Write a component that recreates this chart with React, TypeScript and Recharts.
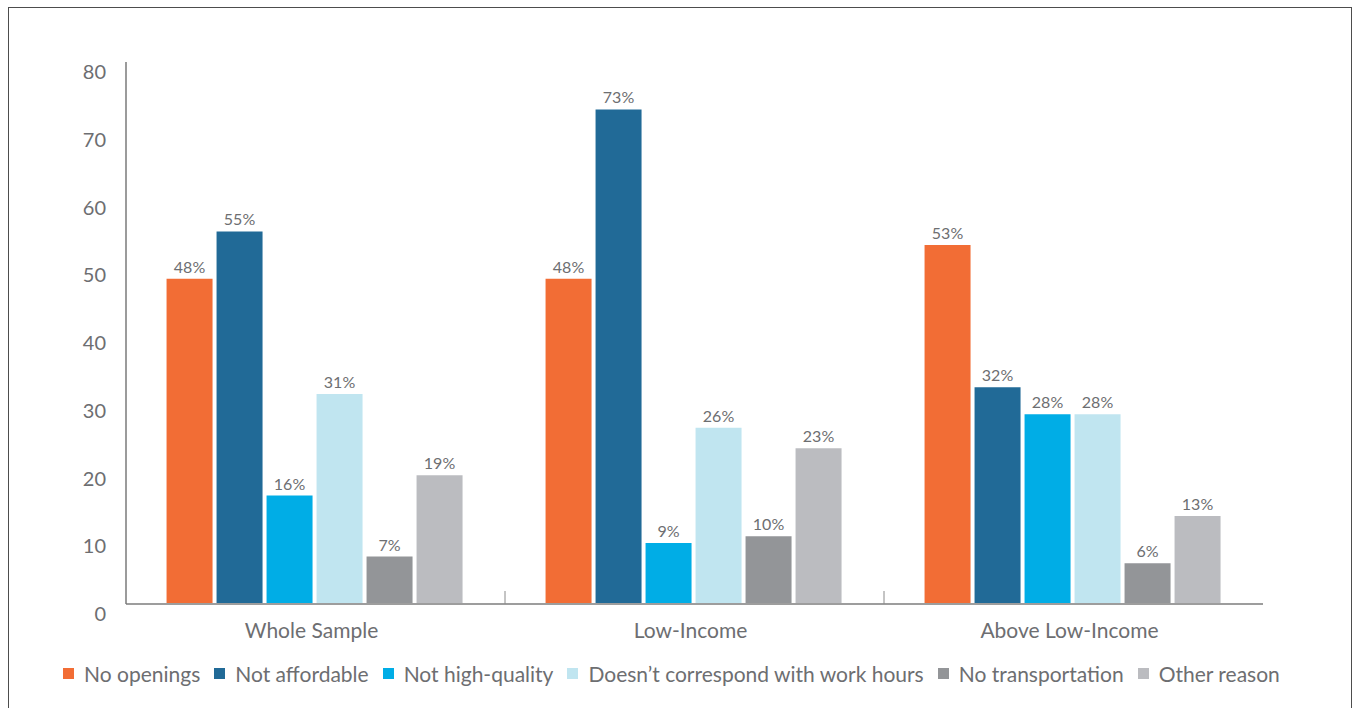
import React from 'react';
import { BarChart, Bar, XAxis, YAxis, LabelList } from 'recharts';

const categories = ['Whole Sample', 'Low-Income', 'Above Low-Income'];
const noOpenings = [48, 48, 53];
const notAffordable = [55, 73, 32];
const notHighQuality = [16, 9, 28];
const workHours = [31, 26, 28];
const noTransportation = [7, 10, 6];
const otherReason = [19, 23, 13];
const yTicks = [0, 10, 20, 30, 40, 50, 60, 70, 80];

const seriesDefs = [
  { key: 'noOpenings', name: 'No openings', color: '#F26D35', values: noOpenings },
  { key: 'notAffordable', name: 'Not affordable', color: '#216A97', values: notAffordable },
  { key: 'notHighQuality', name: 'Not high-quality', color: '#00ADE6', values: notHighQuality },
  { key: 'workHours', name: 'Doesn\u2019t correspond with work hours', color: '#C0E5F0', values: workHours },
  { key: 'noTransportation', name: 'No transportation', color: '#939598', values: noTransportation },
  { key: 'otherReason', name: 'Other reason', color: '#BBBCC0', values: otherReason },
];

const data = categories.map((c, i) => {
  const row: any = { category: c };
  seriesDefs.forEach((s) => {
    row[s.key] = s.values[i];
  });
  return row;
});

const TEXT = '#6d6e71';
const FONT = 'Lato, "Open Sans", sans-serif';

const YTick = (props: any) => {
  const { x, y, payload } = props;
  return (
    <text x={x} y={y + 10} dy="0.355em" textAnchor="end" fill={TEXT} fontSize={20} fontFamily={FONT}>
      {payload.value}
    </text>
  );
};

const XTick = (props: any) => {
  const { x, y, payload, index } = props;
  const half = payload && payload.offset ? payload.offset : 0;
  return (
    <g>
      {index > 0 && (
        <line x1={x - half} x2={x - half} y1={y} y2={y - 13} stroke="#8a8a8a" strokeWidth={1} />
      )}
      <text x={x - 4} y={y + 19} dy="0.71em" textAnchor="middle" fill={TEXT} fontSize={21} fontFamily={FONT}>
        {payload.value}
      </text>
    </g>
  );
};

export default function App() {
  return (
    <div
      style={{
        position: 'fixed',
        left: 8,
        top: 7,
        width: 1344,
        height: 720,
        border: '1px solid #4d4d4d',
        boxSizing: 'border-box',
        overflow: 'hidden',
        background: '#fff',
        fontFamily: FONT,
      }}
    >
      <div style={{ position: 'absolute', left: 0, top: 0 }}>
        <BarChart
          width={1342}
          height={700}
          data={data}
          margin={{ top: 54, left: 57, right: 88, bottom: 64 }}
          barCategoryGap="10.7%"
          barGap={4}
        >
          <XAxis
            dataKey="category"
            height={40}
            tickLine={false}
            tickSize={0}
            tickMargin={0}
            axisLine={{ stroke: '#9d9d9d', strokeWidth: 2 }}
            tick={<XTick />}
            interval={0}
          />
          <YAxis
            domain={[0, 80]}
            ticks={yTicks}
            width={60}
            tickLine={false}
            tickSize={0}
            tickMargin={20}
            axisLine={{ stroke: '#7a7a7a', strokeWidth: 1.5 }}
            tick={<YTick />}
            interval={0}
          />
          <YAxis
            yAxisId="right"
            orientation="right"
            domain={[0, 80]}
            width={0}
            tick={false}
            tickLine={false}
            axisLine={{ stroke: '#8a8a8a', strokeWidth: 1.5 }}
          />
          {seriesDefs.map((s) => (
            <Bar key={s.key} dataKey={s.key} name={s.name} fill={s.color} isAnimationActive={false}>
              <LabelList
                dataKey={s.key}
                position="top"
                offset={6}
                formatter={(v: any) => `${v}%`}
                style={{ fill: TEXT, fontSize: 16, fontFamily: FONT }}
              />
            </Bar>
          ))}
        </BarChart>
      </div>
      <div
        style={{
          position: 'absolute',
          left: 54,
          top: 653,
          height: 24,
          display: 'flex',
          alignItems: 'center',
          whiteSpace: 'nowrap',
          color: TEXT,
          fontSize: 21,
          fontFamily: FONT,
        }}
      >
        {seriesDefs.map((s) => (
          <div key={s.key} style={{ display: 'flex', alignItems: 'center', marginRight: 14 }}>
            <span style={{ display: 'inline-block', width: 11, height: 11, background: s.color, marginRight: 10 }} />
            <span>{s.name}</span>
          </div>
        ))}
      </div>
    </div>
  );
}
